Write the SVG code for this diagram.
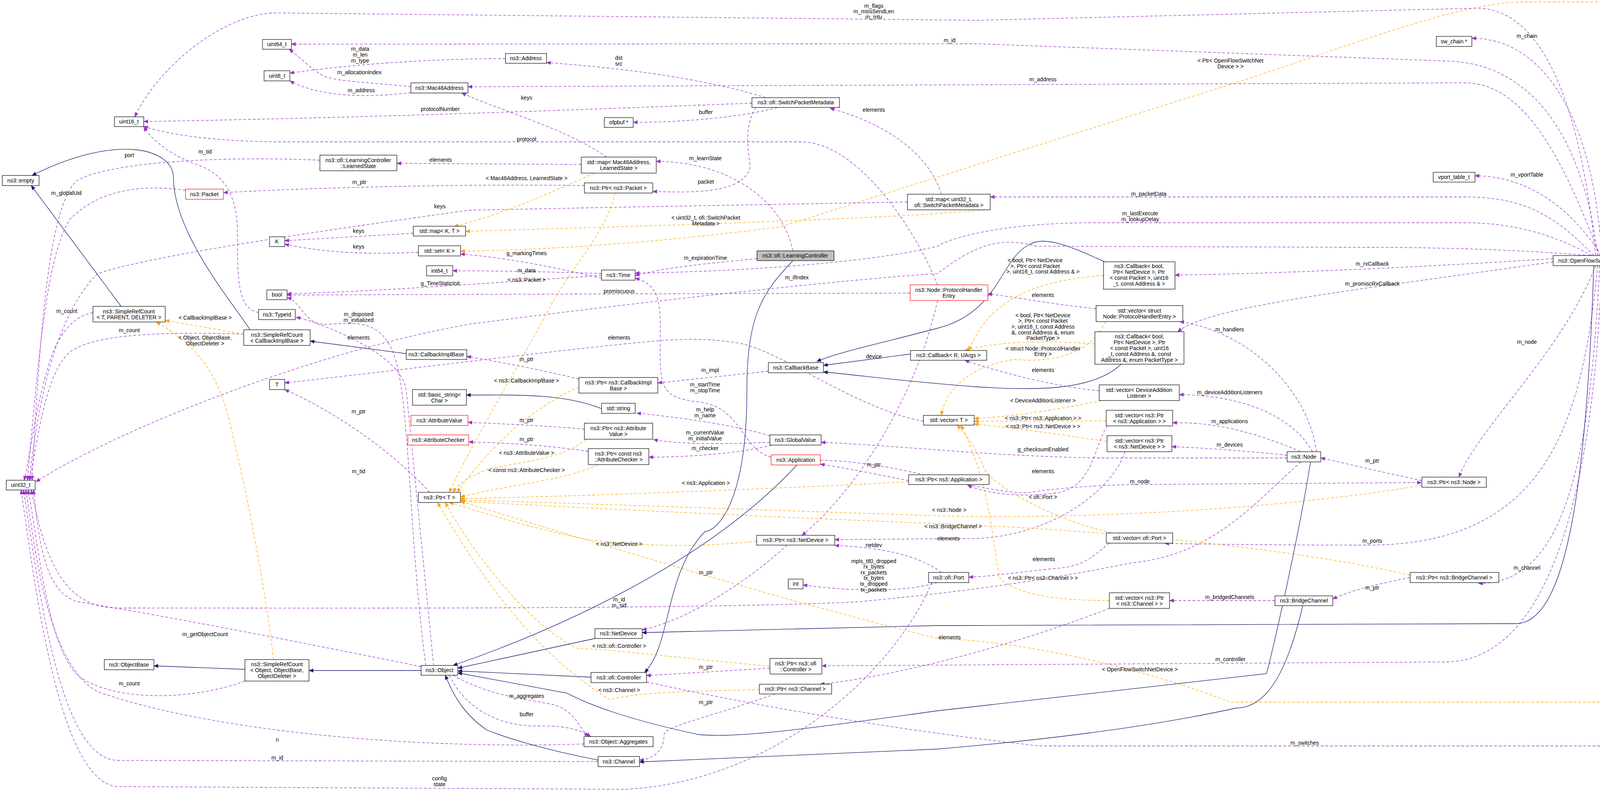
<svg xmlns="http://www.w3.org/2000/svg" width="4811" height="2032" viewBox="0 0 4811 2032">
<style>
.n rect{fill:#fff;stroke:#000;stroke-width:1.2}
.n.r rect{stroke:#ff0000}
.n.g rect{fill:#bfbfbf}
text{font-family:"Liberation Sans",Arial,sans-serif;font-size:14px;fill:#000;text-anchor:middle}
.u{fill:none;stroke:#9a32cd;stroke-width:1.3;stroke-dasharray:7,5;marker-end:url(#mu)}
.t{fill:none;stroke:#ffa500;stroke-width:1.3;stroke-dasharray:7,5;marker-end:url(#mt)}
.i{fill:none;stroke:#191970;stroke-width:1.3;marker-end:url(#mi)}
</style>
<defs>
<marker id="mu" markerWidth="12" markerHeight="10" refX="11" refY="5" orient="auto" markerUnits="userSpaceOnUse"><path d="M0,0L12,5L0,10z" fill="#9a32cd"/></marker>
<marker id="mt" markerWidth="12" markerHeight="10" refX="11" refY="5" orient="auto" markerUnits="userSpaceOnUse"><path d="M0,0L12,5L0,10z" fill="#ffa500"/></marker>
<marker id="mi" markerWidth="12" markerHeight="10" refX="11" refY="5" orient="auto" markerUnits="userSpaceOnUse"><path d="M0,0L12,5L0,10z" fill="#191970"/></marker>
</defs>
<rect width="4811" height="2032" fill="#fff"/>
<g id="edges">
<path class="u" d="M4085,654 C4050,300 3960,21 3780,21 L2500,52 L700,33 C560,40 400,180 345,299"/>
<path class="u" d="M4090,654 C4060,400 3950,160 3700,156 L2500,112 L746,113"/>
<path class="u" d="M4095,654 C4000,400 3900,212 3750,212 L1198,222"/>
<path class="u" d="M4100,654 C4080,300 3950,97 3768,98"/>
<path class="u" d="M4100,654 C4000,500 3880,450 3776,450"/>
<path class="u" d="M4080,654 C3980,550 3900,504 3750,504 L2535,504"/>
<path class="u" d="M4075,654 C3960,590 3850,570 3750,570 L2800,570 C2600,570 2450,600 2400,630 C2200,680 1800,697 1626,699"/>
<path class="u" d="M4070,654 C3900,640 3700,633 3500,633 L2650,630 C2550,600 2480,640 2400,700 C2100,720 1500,790 1200,830 C800,900 300,1100 92,1233"/>
<path class="u" d="M3976,662 C3700,680 3300,700 3008,704"/>
<path class="u" d="M3976,670 C3500,740 3100,780 3015,849"/>
<path class="u" d="M4085,680 C4000,900 3780,1100 3735,1221"/>
<path class="u" d="M4385,1194 C4300,1000 4150,800 4108,680"/>
<path class="u" d="M4570,1214 L4484,1214"/>
<path class="u" d="M4090,680 C4050,1100 3950,1395 3500,1395 C3200,1395 3100,1392 2982,1391"/>
<path class="u" d="M4095,680 C4070,1200 4000,1494 3785,1493"/>
<path class="u" d="M4100,680 C4080,1300 3950,1694 3700,1694 L2104,1704"/>
<path class="u" d="M1655,1745 C1900,1800 2300,1870 2662,1909 L4400,1909 C4600,1909 4650,1500 4686,1235"/>
<path class="u" d="M3370,1156 C3350,1000 3200,850 3020,823"/>
<path class="u" d="M3360,1156 C3300,1050 3150,1010 3019,1010"/>
<path class="u" d="M3340,1160 C3200,1100 3100,1080 3002,1082"/>
<path class="u" d="M3295,1165 C3150,1150 3050,1145 3000,1143"/>
<path class="u" d="M3295,1172 L2800,1172 C2500,1165 2300,1140 2102,1132"/>
<path class="u" d="M3640,1230 C3500,1200 3420,1180 3381,1172"/>
<path class="u" d="M3330,1182 C3200,1300 3100,1420 2900,1440 C2600,1500 2400,1520 2200,1540 C1800,1560 800,1556 300,1556 C150,1556 110,1400 80,1254"/>
<path class="u" d="M2100,1178 C2300,1180 2500,1262 2630,1261 C2700,1250 2800,1242 2900,1240 L3639,1235"/>
<path class="u" d="M2835,1090 C2800,1140 2800,1250 2700,1262 C2600,1275 2520,1260 2477,1242"/>
<path class="u" d="M2326,1230 C2250,1215 2150,1195 2100,1188"/>
<path class="u" d="M1971,1115 C1850,1080 1700,1065 1630,1057"/>
<path class="u" d="M1971,1132 C1900,1135 1750,1140 1673,1125"/>
<path class="u" d="M1975,1139 C1900,1160 1760,1170 1661,1170"/>
<path class="u" d="M1496,1098 C1400,1090 1300,1085 1198,1081"/>
<path class="u" d="M1506,1155 C1400,1140 1300,1133 1200,1131"/>
<path class="u" d="M1974,1170 C1900,1150 1900,1050 1800,1030 C1700,1020 1690,1000 1690,900 C1690,800 1700,730 1626,712"/>
<path class="u" d="M1482,970 C1400,950 1300,930 1195,912"/>
<path class="u" d="M1967,950 L1684,980"/>
<path class="u" d="M2364,1078 C2200,1050 2000,900 1900,880 C1800,860 1700,870 1600,880 C1400,900 1000,950 729,980"/>
<path class="u" d="M2806,790 C2700,780 2600,760 2529,752"/>
<path class="u" d="M2814,1000 C2700,990 2550,950 2470,922"/>
<path class="u" d="M2400,769 C2350,1000 2200,1250 2053,1370"/>
<path class="u" d="M2400,729 C2350,600 2200,363 2050,363 L700,363 C500,360 400,335 368,323"/>
<path class="u" d="M2330,750 L1300,753 L735,755"/>
<path class="u" d="M1540,705 C1300,720 1000,745 735,752"/>
<path class="u" d="M1540,700 C1400,695 1250,693 1159,693"/>
<path class="u" d="M1540,712 C1400,680 1300,660 1179,650"/>
<path class="u" d="M1938,662 C1800,675 1700,685 1626,705"/>
<path class="u" d="M2030,642 C2000,500 1850,413 1680,413"/>
<path class="u" d="M1488,421 L1016,418"/>
<path class="u" d="M1553,402 C1450,330 1300,290 1182,238"/>
<path class="u" d="M1496,475 C1200,470 800,480 572,493"/>
<path class="u" d="M1960,250 C1800,200 1600,175 1399,160"/>
<path class="u" d="M1925,264 C1500,280 1000,300 368,311"/>
<path class="u" d="M1990,275 C1900,300 1750,313 1621,313"/>
<path class="u" d="M1935,275 C1900,330 1920,400 1920,430 C1900,500 1750,492 1671,490"/>
<path class="u" d="M2410,497 C2380,400 2280,320 2125,277"/>
<path class="u" d="M2323,517 L1600,530 L1200,538 C900,580 400,650 250,700 C150,800 100,1000 75,1229"/>
<path class="u" d="M1058,597 L729,616"/>
<path class="u" d="M1071,646 C950,650 850,650 729,625"/>
<path class="u" d="M1294,150 C1100,150 900,165 742,187"/>
<path class="u" d="M1052,222 C950,210 850,210 820,190 C790,170 760,140 740,126"/>
<path class="u" d="M1052,237 C950,250 820,250 742,207"/>
<path class="u" d="M662,800 C610,790 607,720 608,600 C608,480 560,440 500,420 C420,390 380,345 368,325"/>
<path class="u" d="M819,410 C600,400 300,410 200,460 C120,520 100,900 82,1229"/>
<path class="u" d="M475,487 C350,470 250,490 180,560 C120,650 100,900 70,1229"/>
<path class="u" d="M238,800 C180,810 140,870 120,950 C90,1050 80,1150 62,1229"/>
<path class="u" d="M624,855 C450,850 250,850 180,900 C120,950 100,1100 76,1229"/>
<path class="u" d="M1090,1703 C1050,1400 1050,1100 1020,950 C990,800 900,830 830,830 C780,830 770,770 735,762"/>
<path class="u" d="M1110,1703 C1090,1500 1060,1200 1040,1000 C1030,900 800,820 758,812"/>
<path class="u" d="M1100,1260 C1000,1150 850,1050 729,997"/>
<path class="u" d="M1078,1706 C800,1650 500,1590 200,1540 C120,1520 100,1400 86,1254"/>
<path class="u" d="M627,1743 C500,1790 300,1800 200,1730 C120,1650 100,1400 72,1254"/>
<path class="u" d="M1495,1904 C1000,1920 500,1860 250,1770 C120,1700 90,1400 66,1254"/>
<path class="u" d="M1531,1949 L300,1946 C150,1940 100,1500 60,1254"/>
<path class="u" d="M2385,1491 C2300,1700 2000,2000 1600,2020 L300,2013 C150,2000 90,1500 54,1254"/>
<path class="u" d="M1160,1728 C1250,1780 1350,1790 1400,1800 C1470,1810 1480,1860 1506,1885"/>
<path class="u" d="M1150,1728 C1200,1830 1300,1860 1380,1858 C1450,1856 1490,1870 1512,1885"/>
<path class="u" d="M2015,1395 C1900,1500 1750,1590 1644,1612"/>
<path class="u" d="M2410,1465 C2350,1420 2250,1400 2137,1396"/>
<path class="u" d="M2880,1156 C2850,1250 2700,1370 2500,1378 L2137,1381"/>
<path class="u" d="M2400,1491 C2300,1520 2150,1510 2056,1497"/>
<path class="u" d="M2840,1390 C2800,1420 2780,1450 2700,1455 C2600,1465 2540,1475 2480,1477"/>
<path class="u" d="M1971,1710 L1655,1729"/>
<path class="u" d="M1985,1776 C1800,1840 1700,1860 1700,1880 C1700,1930 1660,1945 1637,1945"/>
<path class="u" d="M2840,1557 C2600,1650 2300,1730 2100,1751"/>
<path class="u" d="M3264,1537 L2994,1537"/>
<path class="u" d="M3610,1478 C3500,1500 3450,1515 3412,1533"/>
<path class="t" d="M1575,494 C1550,600 1450,700 1400,800 C1320,950 1200,1150 1150,1260"/>
<path class="t" d="M1520,443 C1400,500 1250,560 1163,579"/>
<path class="t" d="M2520,537 C2300,560 1600,580 1192,592"/>
<path class="t" d="M4620,1194 C4600,700 4500,5 4350,5 L3900,5 C3750,5 3500,100 3200,200 L2000,580 C1700,620 1400,640 1179,643"/>
<path class="t" d="M1482,990 C1350,1050 1250,1150 1170,1260"/>
<path class="t" d="M1500,1124 C1450,1170 1350,1180 1250,1200 C1200,1220 1170,1240 1160,1260"/>
<path class="t" d="M1530,1189 C1450,1230 1300,1240 1179,1272"/>
<path class="t" d="M2326,1233 C2000,1250 1500,1270 1179,1276"/>
<path class="t" d="M3640,1242 C3300,1300 2800,1330 2400,1320 C1800,1300 1400,1285 1179,1280"/>
<path class="t" d="M3610,1472 C3300,1400 2800,1355 2400,1340 C1900,1320 1500,1300 1179,1283"/>
<path class="t" d="M1937,1385 C1800,1400 1650,1400 1500,1380 C1350,1350 1200,1300 1150,1286"/>
<path class="t" d="M1971,1705 C1700,1680 1550,1660 1480,1660 C1350,1600 1200,1400 1140,1286"/>
<path class="t" d="M1944,1765 C1750,1770 1650,1770 1560,1790 C1450,1720 1300,1600 1120,1286"/>
<path class="t" d="M4390,1235 C4380,1600 4300,1797 4100,1797 L3150,1797 C2900,1700 2600,1640 2400,1634 C2100,1560 1750,1460 1179,1283"/>
<path class="t" d="M2825,705 C2600,720 2520,800 2480,897"/>
<path class="t" d="M2803,880 C2650,870 2550,875 2470,897"/>
<path class="t" d="M2830,823 C2800,900 2700,930 2600,920 C2500,930 2420,990 2410,1063"/>
<path class="t" d="M2820,1025 C2700,1050 2600,1065 2494,1071"/>
<path class="t" d="M2832,1077 L2494,1078"/>
<path class="t" d="M2834,1130 C2700,1110 2600,1095 2494,1085"/>
<path class="t" d="M2845,1364 C2700,1330 2550,1250 2520,1200 C2500,1150 2480,1120 2450,1088"/>
<path class="t" d="M2840,1537 C2700,1537 2600,1520 2560,1480 C2540,1400 2540,1250 2460,1088"/>
<path class="t" d="M624,855 L423,820"/>
<path class="t" d="M700,1688 C680,1500 620,1200 580,1050 C550,950 500,880 400,824"/>
<path class="i" d="M310,784 L80,475"/>
<path class="i" d="M640,844 C600,780 445,600 444,455 C444,380 300,340 82,449"/>
<path class="i" d="M1040,905 L794,873"/>
<path class="i" d="M1540,1046 C1450,1010 1350,1010 1194,1011"/>
<path class="i" d="M2331,906 L2108,935"/>
<path class="i" d="M2828,670 C2760,640 2680,600 2637,625 C2560,660 2560,800 2400,840 C2250,880 2150,900 2091,925"/>
<path class="i" d="M2870,932 C2800,1000 2650,1000 2500,990 C2300,975 2200,960 2108,952"/>
<path class="i" d="M2030,667 C1950,750 1912,810 1912,1000 C1912,1300 1830,1360 1805,1360 C1700,1467 1720,1650 1650,1721"/>
<path class="i" d="M1513,1733 L1172,1717"/>
<path class="i" d="M1523,1634 L1172,1710"/>
<path class="i" d="M2040,1190 C1800,1450 1400,1620 1160,1703"/>
<path class="i" d="M3355,1182 C3320,1400 3250,1700 3242,1724 L2400,1819 C2100,1860 1900,1890 1789,1880 C1600,1840 1500,1800 1452,1774 L1172,1722"/>
<path class="i" d="M4080,680 C4060,1300 4000,1596 3880,1596 L2400,1601 L1644,1619"/>
<path class="i" d="M3335,1550 C3300,1700 3250,1812 3165,1812 C2900,1870 2600,1900 2400,1917 L1637,1950"/>
<path class="i" d="M1531,1945 C1400,1920 1300,1890 1246,1868 C1190,1830 1160,1780 1140,1728"/>
<path class="i" d="M627,1713 L394,1704"/>
<path class="i" d="M1078,1716 L791,1716"/>
</g>
<g id="labels">
<text x="2237" y="20">m_flags</text><text x="2237" y="34">m_missSendLen</text><text x="2237" y="48">m_mtu</text>
<text x="2431" y="108">m_id</text>
<text x="2670" y="208">m_address</text>
<text x="3150" y="160">&lt; Ptr&lt; OpenFlowSwitchNet</text><text x="3150" y="175">Device &gt; &gt;</text>
<text x="3909" y="97">m_chain</text>
<text x="3909" y="452">m_vportTable</text>
<text x="2941" y="501">m_packetData</text>
<text x="2919" y="551">m_lastExecute</text><text x="2919" y="566">m_lookupDelay</text>
<text x="3513" y="680">m_rxCallback</text>
<text x="3513" y="731">m_promiscRxCallback</text>
<text x="3909" y="880">m_node</text>
<text x="4255" y="921">m_ptr</text>
<text x="4537" y="1212">keys</text>
<text x="922" y="130">m_data</text><text x="922" y="145">m_len</text><text x="922" y="160">m_type</text>
<text x="920" y="190">m_allocationIndex</text>
<text x="925" y="236">m_address</text>
<text x="1584" y="153">dst</text><text x="1584" y="168">src</text>
<text x="1127" y="284">protocolNumber</text>
<text x="1807" y="292">buffer</text>
<text x="1348" y="255">keys</text>
<text x="2237" y="286">elements</text>
<text x="1348" y="361">protocol</text>
<text x="331" y="402">port</text>
<text x="525" y="393">m_tid</text>
<text x="1128" y="414">elements</text>
<text x="1806" y="410">m_learnState</text>
<text x="1348" y="461">&lt; Mac48Address, LearnedState &gt;</text>
<text x="1807" y="470">packet</text>
<text x="920" y="471">m_ptr</text>
<text x="170" y="499">m_globalUid</text>
<text x="1126" y="533">keys</text>
<text x="1807" y="562">&lt; uint32_t, ofi::SwitchPacket</text><text x="1807" y="577">Metadata &gt;</text>
<text x="918" y="596">keys</text>
<text x="918" y="636">keys</text>
<text x="1348" y="653">g_markingTimes</text>
<text x="1806" y="665">m_expirationTime</text>
<text x="1348" y="697">m_data</text>
<text x="2040" y="715">m_ifIndex</text>
<text x="1348" y="721">&lt; ns3::Packet &gt;</text>
<text x="1127" y="730">g_TimeStaticInit</text>
<text x="1585" y="750">promiscuous</text>
<text x="2650" y="671">&lt; bool, Ptr&lt; NetDevice</text><text x="2650" y="686">&gt;, Ptr&lt; const Packet</text><text x="2670" y="700">&gt;, uint16_t, const Address &amp; &gt;</text>
<text x="2670" y="760">elements</text>
<text x="171" y="801">m_count</text>
<text x="918" y="809">m_disposed</text><text x="918" y="824">m_initialized</text>
<text x="525" y="818">&lt; CallbackImplBase &gt;</text>
<text x="2670" y="812">&lt; bool, Ptr&lt; NetDevice</text><text x="2670" y="826">&gt;, Ptr&lt; const Packet</text><text x="2670" y="841">&gt;, uint16_t, const Address</text><text x="2670" y="856">&amp;, const Address &amp;, enum</text><text x="2670" y="870">PacketType &gt;</text>
<text x="3148" y="848">m_handlers</text>
<text x="331" y="850">m_count</text>
<text x="525" y="869">&lt; Object, ObjectBase,</text><text x="525" y="884">ObjectDeleter &gt;</text>
<text x="918" y="869">elements</text>
<text x="1585" y="869">elements</text>
<text x="2670" y="897">&lt; struct Node::ProtocolHandler</text><text x="2670" y="911">Entry &gt;</text>
<text x="2237" y="917">device</text>
<text x="1348" y="924">m_ptr</text>
<text x="1818" y="952">m_impl</text>
<text x="2670" y="952">elements</text>
<text x="1348" y="979">&lt; ns3::CallbackImplBase &gt;</text>
<text x="1805" y="989">m_startTime</text><text x="1805" y="1004">m_stopTime</text>
<text x="3148" y="1009">m_deviceAdditionListeners</text>
<text x="2670" y="1030">&lt; DeviceAdditionListener &gt;</text>
<text x="1805" y="1053">m_help</text><text x="1805" y="1068">m_name</text>
<text x="918" y="1058">m_ptr</text>
<text x="2670" y="1075">&lt; ns3::Ptr&lt; ns3::Application &gt; &gt;</text>
<text x="1348" y="1080">m_ptr</text>
<text x="3148" y="1083">m_applications</text>
<text x="2670" y="1096">&lt; ns3::Ptr&lt; ns3::NetDevice &gt; &gt;</text>
<text x="1805" y="1112">m_currentValue</text><text x="1805" y="1127">m_initialValue</text>
<text x="1348" y="1129">m_ptr</text>
<text x="3148" y="1143">m_devices</text>
<text x="1805" y="1152">m_checker</text>
<text x="2670" y="1155">g_checksumEnabled</text>
<text x="1348" y="1164">&lt; ns3::AttributeValue &gt;</text>
<text x="3513" y="1184">m_ptr</text>
<text x="2237" y="1194">m_ptr</text>
<text x="1348" y="1208">&lt; const ns3::AttributeChecker &gt;</text>
<text x="918" y="1211">m_tid</text>
<text x="2670" y="1211">elements</text>
<text x="2918" y="1237">m_node</text>
<text x="1807" y="1241">&lt; ns3::Application &gt;</text>
<text x="2670" y="1277">&lt; ofi::Port &gt;</text>
<text x="2430" y="1310">&lt; ns3::Node &gt;</text>
<text x="2440" y="1352">&lt; ns3::BridgeChannel &gt;</text>
<text x="2428" y="1383">elements</text>
<text x="3513" y="1389">m_ports</text>
<text x="1585" y="1397">&lt; ns3::NetDevice &gt;</text>
<text x="2237" y="1400">netdev</text>
<text x="2672" y="1436">elements</text>
<text x="2237" y="1441">mpls_ttl0_dropped</text><text x="2237" y="1455">rx_bytes</text><text x="2237" y="1470">rx_packets</text><text x="2237" y="1484">tx_bytes</text><text x="2237" y="1499">tx_dropped</text><text x="2237" y="1514">tx_packets</text>
<text x="3909" y="1458">m_channel</text>
<text x="1807" y="1470">m_ptr</text>
<text x="2670" y="1484">&lt; ns3::Ptr&lt; ns3::Channel &gt; &gt;</text>
<text x="3513" y="1509">m_ptr</text>
<text x="3148" y="1533">m_bridgedChannels</text>
<text x="1585" y="1539">m_id</text><text x="1585" y="1554">m_sid</text>
<text x="525" y="1628">m_getObjectCount</text>
<text x="2431" y="1636">elements</text>
<text x="1585" y="1658">&lt; ns3::ofi::Controller &gt;</text>
<text x="3150" y="1692">m_controller</text>
<text x="1807" y="1712">m_ptr</text>
<text x="2918" y="1718">&lt; OpenFlowSwitchNetDevice &gt;</text>
<text x="331" y="1754">m_count</text>
<text x="1585" y="1771">&lt; ns3::Channel &gt;</text>
<text x="1348" y="1786">m_aggregates</text>
<text x="1807" y="1802">m_ptr</text>
<text x="1348" y="1833">buffer</text>
<text x="710" y="1898">n</text>
<text x="3340" y="1906">m_switches</text>
<text x="710" y="1944">m_id</text>
<text x="1125" y="1997">config</text><text x="1125" y="2012">state</text>
</g>
<g id="n_uint64" class="n"><rect x="672" y="101" width="74" height="25"/><text x="709" y="118">uint64_t</text></g>
<g id="n_uint8" class="n"><rect x="676" y="181" width="66" height="26"/><text x="709" y="199">uint8_t</text></g>
<g id="n_uint16" class="n"><rect x="293" y="299" width="75" height="25"/><text x="330" y="316">uint16_t</text></g>
<g id="n_empty" class="n"><rect x="6" y="449" width="94" height="26"/><text x="53" y="467">ns3::empty</text></g>
<g id="n_packet" class="n r"><rect x="475" y="484" width="97" height="26"/><text x="523" y="502">ns3::Packet</text></g>
<g id="n_learned" class="n"><rect x="819" y="397" width="197" height="40"/><text x="917" y="415">ns3::ofi::LearningController</text><text x="917" y="430">::LearnedState</text></g>
<g id="n_mac" class="n"><rect x="1052" y="212" width="146" height="26"/><text x="1125" y="230">ns3::Mac48Address</text></g>
<g id="n_mapKT" class="n"><rect x="1058" y="579" width="134" height="25"/><text x="1125" y="596">std::map&lt; K, T &gt;</text></g>
<g id="n_K" class="n"><rect x="690" y="606" width="39" height="25"/><text x="709" y="623">K</text></g>
<g id="n_setK" class="n"><rect x="1071" y="629" width="108" height="26"/><text x="1125" y="647">std::set&lt; K &gt;</text></g>
<g id="n_addr" class="n"><rect x="1294" y="137" width="105" height="25"/><text x="1346" y="154">ns3::Address</text></g>
<g id="n_spm" class="n"><rect x="1925" y="250" width="224" height="25"/><text x="2037" y="267">ns3::ofi::SwitchPacketMetadata</text></g>
<g id="n_ofpbuf" class="n"><rect x="1547" y="301" width="74" height="25"/><text x="1584" y="318">ofpbuf *</text></g>
<g id="n_mapMac" class="n"><rect x="1488" y="402" width="192" height="41"/><text x="1584" y="420">std::map&lt; Mac48Address,</text><text x="1584" y="435">LearnedState &gt;</text></g>
<g id="n_ptrPacket" class="n"><rect x="1496" y="468" width="175" height="26"/><text x="1583" y="486">ns3::Ptr&lt; ns3::Packet &gt;</text></g>
<g id="n_lc" class="n g"><rect x="1938" y="642" width="197" height="25"/><text x="2036" y="659">ns3::ofi::LearningController</text></g>
<g id="n_mapU32" class="n"><rect x="2323" y="497" width="212" height="40"/><text x="2429" y="515">std::map&lt; uint32_t,</text><text x="2429" y="530">ofi::SwitchPacketMetadata &gt;</text></g>
<g id="n_swchain" class="n"><rect x="3677" y="93" width="91" height="26"/><text x="3722" y="111">sw_chain *</text></g>
<g id="n_vport" class="n"><rect x="3669" y="441" width="107" height="25"/><text x="3722" y="458">vport_table_t</text></g>
<g id="n_ofsnd" class="n"><rect x="3976" y="654" width="226" height="26"/><text x="4089" y="672">ns3::OpenFlowSwitchNetDevice</text></g>
<g id="n_int64" class="n"><rect x="1092" y="680" width="67" height="26"/><text x="1125" y="698">int64_t</text></g>
<g id="n_bool" class="n"><rect x="683" y="742" width="52" height="25"/><text x="709" y="759">bool</text></g>
<g id="n_typeid" class="n"><rect x="662" y="792" width="94" height="26"/><text x="709" y="810">ns3::TypeId</text></g>
<g id="n_srcTPD" class="n"><rect x="238" y="784" width="185" height="40"/><text x="330" y="802">ns3::SimpleRefCount</text><text x="330" y="817">&lt; T, PARENT, DELETER &gt;</text></g>
<g id="n_srcCIB" class="n"><rect x="624" y="844" width="170" height="40"/><text x="709" y="862">ns3::SimpleRefCount</text><text x="709" y="877">&lt; CallbackImplBase &gt;</text></g>
<g id="n_cib" class="n"><rect x="1040" y="895" width="155" height="25"/><text x="1117" y="912">ns3::CallbackImplBase</text></g>
<g id="n_T" class="n"><rect x="690" y="971" width="39" height="26"/><text x="709" y="989">T</text></g>
<g id="n_bstr" class="n"><rect x="1056" y="997" width="138" height="40"/><text x="1125" y="1015">std::basic_string&lt;</text><text x="1125" y="1030">Char &gt;</text></g>
<g id="n_av" class="n r"><rect x="1052" y="1063" width="146" height="26"/><text x="1125" y="1081">ns3::AttributeValue</text></g>
<g id="n_ac" class="n r"><rect x="1044" y="1113" width="156" height="26"/><text x="1122" y="1131">ns3::AttributeChecker</text></g>
<g id="n_uint32" class="n"><rect x="16" y="1229" width="74" height="25"/><text x="53" y="1246">uint32_t</text></g>
<g id="n_ptrT" class="n"><rect x="1071" y="1260" width="108" height="26"/><text x="1125" y="1278">ns3::Ptr&lt; T &gt;</text></g>
<g id="n_time" class="n"><rect x="1540" y="691" width="86" height="26"/><text x="1583" y="709">ns3::Time</text></g>
<g id="n_phe" class="n r"><rect x="2330" y="729" width="199" height="40"/><text x="2429" y="747">ns3::Node::ProtocolHandler</text><text x="2429" y="762">Entry</text></g>
<g id="n_cbbase" class="n"><rect x="1967" y="928" width="141" height="26"/><text x="2037" y="946">ns3::CallbackBase</text></g>
<g id="n_cbRU" class="n"><rect x="2331" y="897" width="195" height="25"/><text x="2428" y="914">ns3::Callback&lt; R, UArgs &gt;</text></g>
<g id="n_ptrCIB" class="n"><rect x="1482" y="966" width="202" height="40"/><text x="1583" y="984">ns3::Ptr&lt; ns3::CallbackImpl</text><text x="1583" y="999">Base &gt;</text></g>
<g id="n_string" class="n"><rect x="1540" y="1032" width="86" height="26"/><text x="1583" y="1050">std::string</text></g>
<g id="n_ptrAV" class="n"><rect x="1496" y="1083" width="175" height="41"/><text x="1583" y="1101">ns3::Ptr&lt; ns3::Attribute</text><text x="1583" y="1116">Value &gt;</text></g>
<g id="n_ptrAC" class="n"><rect x="1506" y="1148" width="155" height="41"/><text x="1583" y="1166">ns3::Ptr&lt; const ns3</text><text x="1583" y="1181">::AttributeChecker &gt;</text></g>
<g id="n_gv" class="n"><rect x="1971" y="1113" width="131" height="26"/><text x="2036" y="1131">ns3::GlobalValue</text></g>
<g id="n_app" class="n r"><rect x="1974" y="1164" width="126" height="26"/><text x="2037" y="1182">ns3::Application</text></g>
<g id="n_vecT" class="n"><rect x="2364" y="1063" width="130" height="25"/><text x="2429" y="1080">std::vector&lt; T &gt;</text></g>
<g id="n_ptrApp" class="n"><rect x="2326" y="1215" width="206" height="25"/><text x="2429" y="1232">ns3::Ptr&lt; ns3::Application &gt;</text></g>
<g id="n_cb1" class="n"><rect x="2825" y="670" width="183" height="70"/><text x="2916" y="686">ns3::Callback&lt; bool,</text><text x="2916" y="701">Ptr&lt; NetDevice &gt;, Ptr</text><text x="2916" y="716">&lt; const Packet &gt;, uint16</text><text x="2916" y="731">_t, const Address &amp; &gt;</text></g>
<g id="n_vecPHE" class="n"><rect x="2806" y="782" width="222" height="41"/><text x="2917" y="800">std::vector&lt; struct</text><text x="2917" y="815">Node::ProtocolHandlerEntry &gt;</text></g>
<g id="n_cb2" class="n"><rect x="2803" y="849" width="228" height="83"/><text x="2917" y="866">ns3::Callback&lt; bool,</text><text x="2917" y="881">Ptr&lt; NetDevice &gt;, Ptr</text><text x="2917" y="896">&lt; const Packet &gt;, uint16</text><text x="2917" y="911">_t, const Address &amp;, const</text><text x="2917" y="926">Address &amp;, enum PacketType &gt;</text></g>
<g id="n_vecDAL" class="n"><rect x="2814" y="985" width="205" height="40"/><text x="2916" y="1003">std::vector&lt; DeviceAddition</text><text x="2916" y="1018">Listener &gt;</text></g>
<g id="n_vecApp" class="n"><rect x="2832" y="1050" width="170" height="40"/><text x="2917" y="1068">std::vector&lt; ns3::Ptr</text><text x="2917" y="1083">&lt; ns3::Application &gt; &gt;</text></g>
<g id="n_vecND" class="n"><rect x="2834" y="1115" width="166" height="41"/><text x="2917" y="1133">std::vector&lt; ns3::Ptr</text><text x="2917" y="1148">&lt; ns3::NetDevice &gt; &gt;</text></g>
<g id="n_node" class="n"><rect x="3295" y="1156" width="86" height="26"/><text x="3338" y="1174">ns3::Node</text></g>
<g id="n_ptrNode" class="n"><rect x="3640" y="1221" width="165" height="26"/><text x="3722" y="1239">ns3::Ptr&lt; ns3::Node &gt;</text></g>
<g id="n_ptrOF" class="n"><rect x="4293" y="1194" width="191" height="41"/><text x="4388" y="1212">ns3::Ptr&lt; OpenFlowSwitch</text><text x="4388" y="1227">NetDevice &gt;</text></g>
<g id="n_setOF" class="n"><rect x="4570" y="1194" width="224" height="41"/><text x="4682" y="1212">std::set&lt; Ptr&lt; OpenFlowSwitch</text><text x="4682" y="1227">NetDevice &gt; &gt;</text></g>
<g id="n_objbase" class="n"><rect x="267" y="1688" width="127" height="26"/><text x="330" y="1706">ns3::ObjectBase</text></g>
<g id="n_srcObj" class="n"><rect x="627" y="1688" width="164" height="55"/><text x="709" y="1705">ns3::SimpleRefCount</text><text x="709" y="1720">&lt; Object, ObjectBase,</text><text x="709" y="1735">ObjectDeleter &gt;</text></g>
<g id="n_object" class="n"><rect x="1078" y="1703" width="94" height="25"/><text x="1125" y="1720">ns3::Object</text></g>
<g id="n_ptrND" class="n"><rect x="1937" y="1370" width="200" height="25"/><text x="2037" y="1387">ns3::Ptr&lt; ns3::NetDevice &gt;</text></g>
<g id="n_int" class="n"><rect x="2018" y="1482" width="38" height="25"/><text x="2037" y="1499">int</text></g>
<g id="n_netdev" class="n"><rect x="1523" y="1609" width="121" height="25"/><text x="1583" y="1626">ns3::NetDevice</text></g>
<g id="n_ptrCtrl" class="n"><rect x="1971" y="1685" width="133" height="40"/><text x="2037" y="1703">ns3::Ptr&lt; ns3::ofi</text><text x="2037" y="1718">::Controller &gt;</text></g>
<g id="n_ctrl" class="n"><rect x="1513" y="1721" width="142" height="26"/><text x="1584" y="1739">ns3::ofi::Controller</text></g>
<g id="n_ptrCh" class="n"><rect x="1944" y="1751" width="185" height="25"/><text x="2036" y="1768">ns3::Ptr&lt; ns3::Channel &gt;</text></g>
<g id="n_aggr" class="n"><rect x="1495" y="1885" width="177" height="26"/><text x="1583" y="1903">ns3::Object::Aggregates</text></g>
<g id="n_channel" class="n"><rect x="1531" y="1936" width="106" height="26"/><text x="1584" y="1954">ns3::Channel</text></g>
<g id="n_port" class="n"><rect x="2377" y="1465" width="103" height="26"/><text x="2428" y="1483">ns3::ofi::Port</text></g>
<g id="n_vecPort" class="n"><rect x="2832" y="1364" width="170" height="26"/><text x="2917" y="1382">std::vector&lt; ofi::Port &gt;</text></g>
<g id="n_vecCh" class="n"><rect x="2840" y="1517" width="154" height="40"/><text x="2917" y="1535">std::vector&lt; ns3::Ptr</text><text x="2917" y="1550">&lt; ns3::Channel &gt; &gt;</text></g>
<g id="n_bc" class="n"><rect x="3264" y="1525" width="148" height="25"/><text x="3338" y="1542">ns3::BridgeChannel</text></g>
<g id="n_ptrBC" class="n"><rect x="3610" y="1465" width="227" height="26"/><text x="3723" y="1483">ns3::Ptr&lt; ns3::BridgeChannel &gt;</text></g>
</svg>
